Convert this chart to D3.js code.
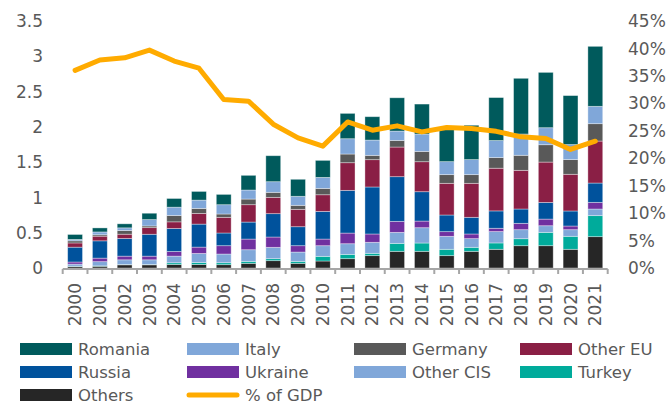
<!DOCTYPE html>
<html>
<head>
<meta charset="utf-8">
<script src="https://cdn.jsdelivr.net/npm/d3@7"></script>
<style>
  body { margin: 0; background: #fff; }
  svg text { font-family: "DejaVu Sans", sans-serif; fill: #595959; }
</style>
</head>
<body>
<svg id="chart" width="671" height="405"></svg>
<script>
// years on the x axis
var years = ["2000","2001","2002","2003","2004","2005","2006","2007","2008","2009","2010",
  "2011","2012","2013","2014","2015","2016","2017","2018","2019","2020","2021"];

// stacked series
var romania  = [0.07,0.057,0.057,0.09,0.123,0.123,0.146,0.208,0.368,0.241,0.241,0.359,0.331,0.472,0.425,0.463,0.487,0.609,0.789,0.784,0.694,0.85];
var italy    = [0.02,0.04,0.038,0.09,0.118,0.118,0.132,0.128,0.151,0.128,0.156,0.217,0.217,0.132,0.246,0.184,0.213,0.241,0.302,0.241,0.213,0.246];
var germany  = [0.03,0.02,0.052,0.024,0.09,0.071,0.047,0.08,0.071,0.057,0.09,0.123,0.061,0.094,0.146,0.123,0.123,0.151,0.213,0.246,0.208,0.246];
var otherEU  = [0.06,0.066,0.061,0.094,0.094,0.151,0.222,0.246,0.231,0.246,0.236,0.392,0.387,0.42,0.425,0.449,0.482,0.605,0.548,0.572,0.52,0.595];
var russia   = [0.21,0.245,0.25,0.31,0.326,0.326,0.18,0.241,0.331,0.269,0.392,0.605,0.666,0.633,0.416,0.236,0.236,0.246,0.203,0.236,0.213,0.274];
var ukraine  = [0.03,0.05,0.052,0.052,0.066,0.09,0.118,0.151,0.146,0.09,0.094,0.151,0.118,0.156,0.094,0.066,0.066,0.047,0.09,0.094,0.052,0.094];
var otherCIS = [0.03,0.06,0.066,0.066,0.094,0.128,0.123,0.165,0.161,0.132,0.151,0.151,0.156,0.156,0.217,0.184,0.123,0.161,0.128,0.094,0.094,0.094];
var turkey   = [0.005,0.005,0.005,0.005,0.024,0.028,0.028,0.028,0.028,0.028,0.066,0.061,0.033,0.113,0.118,0.09,0.057,0.09,0.099,0.189,0.184,0.298];
var others   = [0.02,0.025,0.045,0.045,0.05,0.05,0.047,0.066,0.104,0.066,0.099,0.132,0.175,0.236,0.236,0.175,0.236,0.265,0.316,0.316,0.265,0.444];

// % of GDP line (right axis)
var gdpShare = [36,37.9,38.3,39.7,37.7,36.4,30.7,30.4,26.2,23.7,22.2,26.6,25.1,25.9,24.8,25.6,25.4,24.9,23.9,23.6,21.6,23.1];

var leftTicks = [0,0.5,1,1.5,2,2.5,3,3.5];
var rightTicks = [0,5,10,15,20,25,30,35,40,45];

// stack order, bottom first
var seriesNames = ["Others","Turkey","Other CIS","Ukraine","Russia","Other EU","Germany","Italy","Romania"];
var seriesValues = [others, turkey, otherCIS, ukraine, russia, otherEU, germany, italy, romania];
var seriesColors = ["#262626","#00ab9b","#80a7d9","#7030a0","#00529c","#8a1f45","#595959","#80a7d9","#005a5c"];
var lineColor = "#ffab00";

var svg = d3.select("#chart");
var plotLeft = 62.7, plotRight = 607.7, plotTop = 21, plotBottom = 268;

var x = d3.scaleBand().domain(years).range([plotLeft, plotRight]).paddingInner(0.4).paddingOuter(0.2);
var y = d3.scaleLinear().domain([0, 3.5]).range([plotBottom, plotTop]);
var y2 = d3.scaleLinear().domain([0, 45]).range([plotBottom, plotTop]);

// build rows for d3.stack
var rows = years.map(function (yr, i) {
    var r = {year: yr};
    seriesNames.forEach(function (n, k) { r[n] = seriesValues[k][i]; });
    return r;
});
var stacked = d3.stack().keys(seriesNames)(rows);

var layers = svg.append("g").selectAll("g")
    .data(stacked)
    .enter()
    .append("g")
    .attr("fill", function (d, i) { return seriesColors[i]; });

layers.selectAll("rect")
    .data(function (d) { return d; })
    .enter()
    .append("rect")
    .attr("x", function (d) { return x(d.data.year); })
    .attr("width", x.bandwidth())
    .attr("y", function (d) { return y(d[1]); })
    .attr("height", function (d) { return y(d[0]) - y(d[1]); })
    .attr("stroke", "#ffffff")
    .attr("stroke-opacity", 0.45)
    .attr("stroke-width", 0.8);

// bottom axis line with ticks at band edges
var step = x.step();
var axisG = svg.append("g");
axisG.append("line")
    .attr("x1", plotLeft).attr("x2", plotRight)
    .attr("y1", plotBottom + 1).attr("y2", plotBottom + 1)
    .attr("stroke", "#a6a6a6").attr("stroke-width", 2);
axisG.selectAll("line.tick")
    .data(d3.range(years.length + 1))
    .enter()
    .append("line")
    .attr("class", "tick")
    .attr("x1", function (i) { return plotLeft + i * step; })
    .attr("x2", function (i) { return plotLeft + i * step; })
    .attr("y1", plotBottom + 1).attr("y2", plotBottom + 6)
    .attr("stroke", "#a6a6a6").attr("stroke-width", 2);

axisG.selectAll("text")
    .data(years)
    .enter()
    .append("text")
    .attr("transform", function (d) {
        return "translate(" + (x(d) + x.bandwidth() / 2) + "," + 283 + ") rotate(-90)";
    })
    .attr("dy", "0.36em")
    .attr("text-anchor", "end")
    .attr("font-size", 17)
    .text(function (d) { return d; });

// left axis labels
svg.append("g").selectAll("text")
    .data(leftTicks)
    .enter()
    .append("text")
    .attr("x", 43)
    .attr("y", function (d) { return y(d); })
    .attr("dy", "0.36em")
    .attr("text-anchor", "end")
    .attr("font-size", 17)
    .text(function (d) { return d; });

// right axis labels
svg.append("g").selectAll("text")
    .data(rightTicks)
    .enter()
    .append("text")
    .attr("x", 628)
    .attr("y", function (d) { return y2(d); })
    .attr("dy", "0.36em")
    .attr("font-size", 17)
    .text(function (d) { return d + "%"; });

// % of GDP line
var gdpLine = d3.line()
    .x(function (d, i) { return x(years[i]) + x.bandwidth() / 2; })
    .y(function (d) { return y2(d); });

svg.append("path")
    .datum(gdpShare)
    .attr("d", gdpLine)
    .attr("fill", "none")
    .attr("stroke", lineColor)
    .attr("stroke-width", 5)
    .attr("stroke-linejoin", "round")
    .attr("stroke-linecap", "round");

// legend, 4 columns
var legendItems = ["Romania","Italy","Germany","Other EU","Russia","Ukraine","Other CIS","Turkey","Others","% of GDP"];
var legendX = [20, 187, 354, 520];
var legendY = [349, 372, 395];
var legend = svg.append("g");
legendItems.forEach(function (name, i) {
    var lx = legendX[i % 4], ly = legendY[Math.floor(i / 4)];
    if (name === "% of GDP") {
        legend.append("line")
            .attr("x1", lx + 2).attr("x2", lx + 50)
            .attr("y1", ly).attr("y2", ly)
            .attr("stroke", lineColor).attr("stroke-width", 5)
            .attr("stroke-linecap", "round");
    } else {
        legend.append("rect")
            .attr("x", lx).attr("y", ly - 6)
            .attr("width", 52).attr("height", 12)
            .attr("fill", seriesColors[seriesNames.indexOf(name)]);
    }
    legend.append("text")
        .attr("x", lx + 58)
        .attr("y", ly)
        .attr("dy", "0.36em")
        .attr("font-size", 16.5)
        .text(name);
});
</script>
</body>
</html>
